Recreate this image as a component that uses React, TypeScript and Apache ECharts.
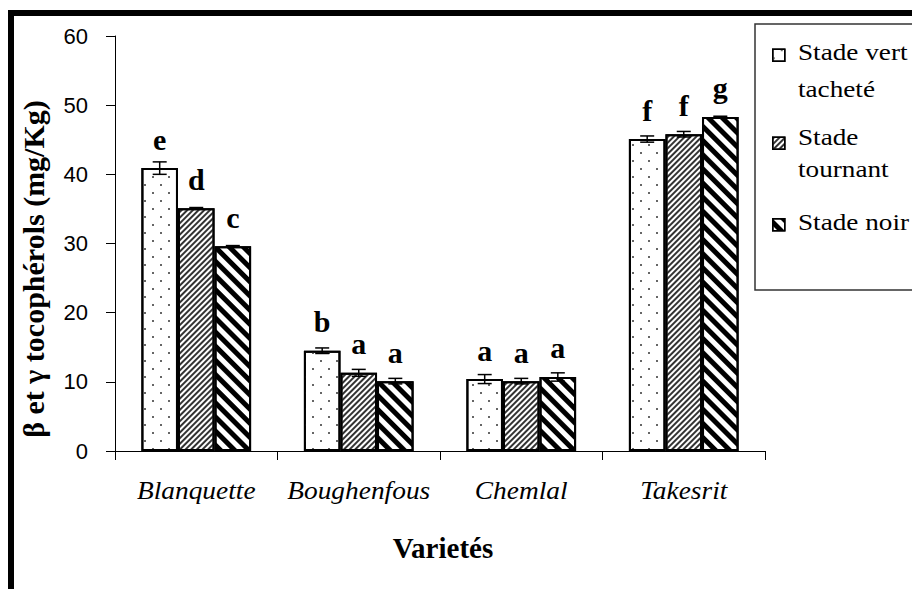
import React, { useEffect, useRef } from 'react';
import * as echarts from 'echarts';

const categories = ['Blanquette', 'Boughenfous', 'Chemlal', 'Takesrit'];
const legendLines = [['Stade vert', 'tacheté'], ['Stade', 'tournant'], ['Stade noir']];
const seriesNames = legendLines.map((l) => l.join(' '));
const vertTachete = [40.9, 14.5, 10.4, 45.1];
const tournant = [35.1, 11.3, 10.1, 45.8];
const noir = [29.6, 10.1, 10.7, 48.3];
const errVert = [0.9, 0.4, 0.65, 0.45];
const errTournant = [0.1, 0.5, 0.4, 0.4];
const errNoir = [0.1, 0.4, 0.6, 0.1];
const lettersVert = ['e', 'b', 'a', 'f'];
const lettersTournant = ['d', 'a', 'a', 'f'];
const lettersNoir = ['c', 'a', 'a', 'g'];
const yMin = 0;
const yMax = 60;
const yStep = 10;
const yTitle = 'β et γ tocophérols (mg/Kg)';
const xTitle = 'Varietés';

const SERIF = 'Liberation Serif';
const SANS = 'Liberation Sans';
const BAR_W = 0.225;

const decals: any[] = [
  {
    symbol: 'rect', symbolSize: 1, color: '#666',
    dashArrayX: [[2, 14], [0, 8, 2, 6]], dashArrayY: [2, 6], rotation: 0,
  },
  {
    symbol: 'rect', symbolSize: 1, color: '#333',
    dashArrayX: [1, 0], dashArrayY: [1.5, 1.7], rotation: -Math.PI / 4,
  },
  {
    symbol: 'rect', symbolSize: 1, color: '#000',
    dashArrayX: [1, 0], dashArrayY: [4.2, 4.2], rotation: Math.PI / 4,
  },
];

// regular serif text is drawn at 20px and stretched, like the reference's wide type
const scaledText = (id: string, text: string, x: number, y: number, sx: number, sy: number, extra: any = {}) => ({
  type: 'text', id, silent: true, x, y, scaleX: sx, scaleY: sy,
  style: {
    text, x: 0, y: 0, fontFamily: SERIF, fontWeight: 400, fontSize: 20, fill: '#000',
    verticalAlign: 'middle', align: 'left', ...extra,
  },
});

export default function App() {
  const ref = useRef<HTMLDivElement>(null);
  useEffect(() => {
    if (!ref.current) return;
    const chart = echarts.init(ref.current, null, { renderer: 'svg' });
    const values = [vertTachete, tournant, noir];
    const errs = [errVert, errTournant, errNoir];
    const letters = [lettersVert, lettersTournant, lettersNoir];

    const barSeries = values.map((vals, k) => ({
      type: 'bar',
      name: seriesNames[k],
      data: vals,
      barWidth: BAR_W * 100 + '%',
      barGap: '0%',
      itemStyle: { color: '#fff', borderColor: '#000', borderWidth: 2, decal: decals[k] },
      label: {
        show: true, position: 'top', distance: 14,
        formatter: (p: any) => letters[k][p.dataIndex],
        fontFamily: SERIF, fontWeight: 'bold', fontSize: 30, color: '#000',
      },
      emphasis: { disabled: true },
    }));

    const errSeries = values.map((vals, k) => ({
      type: 'custom',
      name: 'err' + k,
      data: vals.map((v, i) => [i, v, errs[k][i]]),
      encode: { x: 0, y: 1 },
      z: 10,
      silent: true,
      renderItem: (params: any, api: any) => {
        const i = api.value(0);
        const v = api.value(1);
        const e = api.value(2);
        const band = api.size([1, 0])[0];
        const w = band * BAR_W;
        const c = api.coord([i, v]);
        const x = c[0] + (k - 1) * w;
        const top = api.coord([i, v + e])[1];
        const bot = api.coord([i, v - e])[1];
        const h = 7;
        const st = { stroke: '#000', lineWidth: 1.5 };
        return {
          type: 'group',
          children: [
            { type: 'line', shape: { x1: x, y1: top, x2: x, y2: bot }, style: st },
            { type: 'line', shape: { x1: x - h, y1: top, x2: x + h, y2: top }, style: st },
            { type: 'line', shape: { x1: x - h, y1: bot, x2: x + h, y2: bot }, style: st },
          ],
        };
      },
    }));

    const legendIconTops = [48.5, 136.5, 218];
    const legendLineY = [[52.4, 89.1], [137.4, 169.1], [222.4]];
    const legendTexts: any[] = [];
    legendLines.forEach((lines, k) =>
      lines.forEach((t, j) =>
        legendTexts.push(scaledText('lg' + k + '_' + j, t, 798, legendLineY[k][j], 1.36, 1.13)),
      ),
    );

    const baseGraphic: any[] = [
      {
        type: 'rect', id: 'frame', z: 100, silent: true,
        shape: { x: 11, y: 13, width: 1000, height: 1000 },
        style: { fill: 'none', stroke: '#000', lineWidth: 6 },
      },
      {
        type: 'rect', id: 'legendBox', z: 1, silent: true,
        shape: { x: 755, y: 24, width: 300, height: 266 },
        style: { fill: 'none', stroke: '#333', lineWidth: 1.5 },
      },
      ...legendTexts,
      {
        type: 'text', id: 'ytitle', silent: true, x: 33, y: 269, rotation: Math.PI / 2,
        style: {
          text: yTitle, x: 0, y: 0, fontFamily: SERIF, fontWeight: 'bold', fontSize: 30,
          fill: '#000', align: 'center', verticalAlign: 'middle',
        },
      },
      {
        type: 'text', id: 'xtitle', silent: true,
        style: {
          text: xTitle, x: 443, y: 548, fontFamily: SERIF, fontWeight: 'bold', fontSize: 29,
          fill: '#000', align: 'center', verticalAlign: 'middle',
        },
      },
    ];

    const option: any = {
      animation: false,
      backgroundColor: '#fff',
      grid: { left: 115, right: 147, top: 36, bottom: 138 },
      xAxis: {
        type: 'category',
        data: categories,
        axisLine: { lineStyle: { color: '#000', width: 1 } },
        axisTick: { show: true, length: 9, inside: false, lineStyle: { color: '#000' } },
        axisLabel: { show: false },
        splitLine: { show: false },
      },
      yAxis: {
        type: 'value',
        min: yMin, max: yMax, interval: yStep,
        axisLine: { show: true, lineStyle: { color: '#000', width: 1 } },
        axisTick: { show: true, length: 9, lineStyle: { color: '#000' } },
        axisLabel: { fontFamily: SANS, fontWeight: 400, fontSize: 22, color: '#000', margin: 27 },
        splitLine: { show: false },
      },
      legend: legendLines.map((lines, k) => ({
        data: [seriesNames[k]],
        orient: 'vertical',
        left: 772,
        top: legendIconTops[k],
        padding: 0,
        itemWidth: 12,
        itemHeight: 12,
        icon: 'rect',
        selectedMode: false,
        formatter: () => '',
        itemStyle: { borderWidth: 1.5 },
        textStyle: { fontSize: 12, lineHeight: 12 },
      })),
      graphic: baseGraphic,
      series: [...barSeries, ...errSeries],
    };
    chart.setOption(option);

    // category labels placed from the axis scale, stretched like the reference
    const axisY = chart.convertToPixel({ yAxisIndex: 0 }, yMin) as number;
    const catLabels = categories.map((c, i) => {
      const cx = chart.convertToPixel({ xAxisIndex: 0 }, c) as number;
      return scaledText('cat' + i, c, cx, axisY + 40, 1.37, 1.21, { align: 'center', fontStyle: 'italic' });
    });
    chart.setOption({ graphic: [...baseGraphic, ...catLabels] });

    return () => chart.dispose();
  }, []);
  return (
    <div
      ref={ref}
      style={{ position: 'fixed', left: 0, top: 0, width: 912, height: 589, background: '#fff' }}
    />
  );
}
